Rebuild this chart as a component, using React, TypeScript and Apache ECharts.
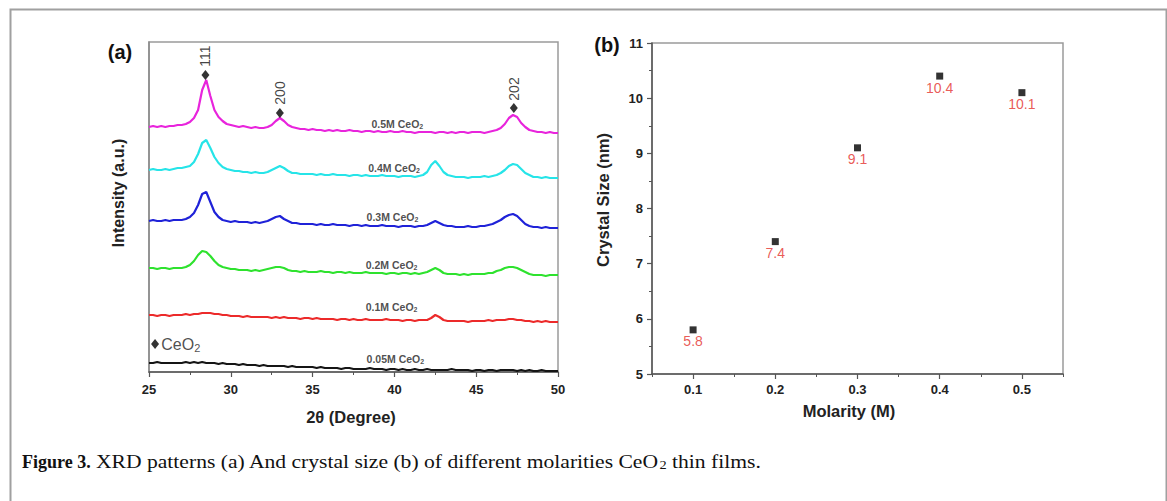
import React, { useEffect, useRef } from 'react';
import * as echarts from 'echarts';

// ---------- Panel (a): XRD patterns ----------
const twoTheta = [
  25, 25.25, 25.5, 25.75, 26, 26.25, 26.5, 26.75, 27, 27.25, 27.5, 27.75, 28, 28.25, 28.5, 28.75,
  29, 29.25, 29.5, 29.75, 30, 30.25, 30.5, 30.75, 31, 31.25, 31.5, 31.75, 32, 32.25, 32.5, 32.75,
  33, 33.25, 33.5, 33.75, 34, 34.25, 34.5, 34.75, 35, 35.25, 35.5, 35.75, 36, 36.25, 36.5, 36.75,
  37, 37.25, 37.5, 37.75, 38, 38.25, 38.5, 38.75, 39, 39.25, 39.5, 39.75, 40, 40.25, 40.5, 40.75,
  41, 41.25, 41.5, 41.75, 42, 42.25, 42.5, 42.75, 43, 43.25, 43.5, 43.75, 44, 44.25, 44.5, 44.75,
  45, 45.25, 45.5, 45.75, 46, 46.25, 46.5, 46.75, 47, 47.25, 47.5, 47.75, 48, 48.25, 48.5, 48.75,
  49, 49.25, 49.5, 49.75, 50,
];

const m05 = [
  245, 246, 245, 246, 245, 246, 246, 247, 247, 248, 250, 254, 262, 282, 292, 276,
  262, 255, 251, 248, 247, 246, 245, 246, 245, 244, 245, 244, 244, 245, 247, 251,
  254, 251, 247, 245, 244, 243, 243, 242, 243, 242, 242, 241, 242, 241, 242, 241,
  241, 242, 241, 241, 240, 241, 241, 240, 241, 240, 240, 241, 240, 240, 241, 240,
  240, 239, 240, 240, 240, 240, 239, 240, 240, 239, 240, 239, 240, 240, 239, 240,
  240, 240, 239, 240, 241, 242, 244, 248, 254, 257, 255, 249, 245, 242, 241, 240,
  240, 239, 240, 239, 239,
];
const m04 = [
  202, 203, 202, 202, 203, 202, 203, 204, 204, 205, 206, 210, 218, 229, 232, 224,
  215, 209, 205, 203, 202, 201, 201, 200, 200, 199, 200, 199, 199, 200, 202, 204,
  206, 204, 201, 199, 199, 198, 198, 198, 198, 197, 198, 197, 197, 198, 197, 197,
  197, 196, 197, 197, 196, 197, 196, 196, 196, 197, 196, 196, 196, 195, 196, 196,
  196, 195, 196, 197, 200, 207, 211, 206, 200, 197, 196, 195, 195, 195, 194, 195,
  195, 195, 196, 195, 196, 197, 199, 202, 206, 208, 207, 203, 199, 197, 195, 195,
  194, 195, 194, 194, 194,
];
const m03 = [
  151, 152, 151, 151, 152, 151, 152, 152, 152, 153, 155, 159, 167, 178, 180, 170,
  160, 155, 152, 151, 150, 151, 150, 150, 150, 149, 150, 149, 150, 151, 153, 155,
  156, 153, 151, 149, 149, 148, 148, 148, 148, 147, 148, 147, 147, 148, 147, 147,
  147, 146, 147, 147, 146, 147, 146, 146, 146, 147, 146, 146, 146, 145, 146, 146,
  146, 145, 146, 146, 147, 149, 151, 149, 147, 146, 146, 145, 145, 145, 146, 145,
  145, 146, 146, 147, 148, 150, 152, 155, 157, 158, 156, 152, 148, 146, 145, 145,
  144, 145, 144, 144, 144,
];
const m02 = [
  104, 104, 103, 104, 104, 103, 104, 104, 104, 105, 107, 111, 117, 121, 120, 116,
  111, 107, 105, 104, 103, 103, 102, 102, 102, 101, 102, 101, 102, 103, 104, 105,
  105, 104, 102, 101, 101, 100, 101, 100, 100, 100, 101, 100, 100, 99, 100, 100,
  99, 100, 99, 99, 99, 100, 99, 99, 99, 99, 98, 99, 99, 98, 99, 99,
  98, 99, 98, 99, 100, 102, 104, 102, 99, 98, 98, 98, 97, 98, 97, 98,
  98, 98, 98, 99, 99, 101, 102, 104, 105, 105, 104, 102, 100, 98, 97, 97,
  97, 96, 97, 97, 97,
];
const m01 = [
  57, 57, 56, 57, 57, 56, 57, 57, 57, 58, 57, 58, 58, 59, 59, 59,
  58, 58, 57, 57, 56, 56, 56, 55, 56, 55, 55, 55, 55, 55, 54, 55,
  54, 55, 54, 54, 54, 53, 54, 54, 53, 54, 53, 53, 53, 53, 52, 53,
  53, 52, 53, 52, 52, 53, 52, 52, 52, 52, 53, 52, 52, 52, 51, 52,
  52, 51, 52, 52, 52, 54, 57, 55, 52, 51, 51, 51, 51, 51, 50, 51,
  51, 51, 51, 52, 51, 52, 52, 52, 53, 53, 52, 52, 51, 51, 50, 51,
  50, 51, 50, 50, 50,
];
const m005 = [
  9, 9, 10, 9, 9, 9, 9, 9, 9, 10, 9, 10, 9, 10, 9, 9,
  9, 8, 9, 8, 8, 8, 7, 8, 7, 7, 7, 6, 7, 6, 6, 6,
  6, 6, 5, 6, 5, 5, 5, 5, 5, 4, 5, 4, 4, 4, 4, 3,
  4, 4, 3, 3, 3, 3, 4, 3, 3, 3, 2, 3, 3, 2, 3, 2,
  2, 3, 2, 2, 3, 2, 2, 2, 2, 2, 3, 2, 2, 2, 2, 1,
  2, 2, 1, 2, 2, 1, 2, 2, 2, 2, 1, 2, 1, 2, 1, 1,
  2, 1, 1, 1, 1,
];

const traceNames = ['0.5M', '0.4M', '0.3M', '0.2M', '0.1M', '0.05M'];
const traceValues = [m05, m04, m03, m02, m01, m005];
const traceColors = ['#e824dc', '#26e4e8', '#1f22d8', '#2ee22e', '#ec2a2a', '#151515'];
// label anchor (2θ, intensity) for each trace name
const traceLabelX = [38.6, 38.4, 38.3, 38.25, 38.25, 38.3];
const traceLabelY = [248, 204, 155, 107, 65, 13];

// CeO2 reflections
const peakHkl = ['111', '200', '202'];
const peakTheta = [28.45, 33.0, 47.3];
const peakMarkY = [297, 259, 264];
const peakLabelY = [316, 279, 283];

// legend marker
const legendPos = [25.37, 28];
const legendTextPos = [25.75, 28];

// ---------- Panel (b): crystal size ----------
const molarity = [0.1, 0.2, 0.3, 0.4, 0.5];
const crystalSize = [5.8, 7.4, 9.1, 10.4, 10.1];
const molarityTicks = [0.1, 0.2, 0.3, 0.4, 0.5];

const SANS = 'Liberation Sans, Arial, sans-serif';
const SERIF = 'Liberation Serif, Times New Roman, serif';

export default function App() {
  const ref = useRef<HTMLDivElement>(null);

  useEffect(() => {
    if (!ref.current) return;
    const chart = echarts.init(ref.current, undefined, { renderer: 'svg' });

    const lineSeries = traceValues.map((vals, i) => ({
      type: 'line',
      xAxisIndex: 0,
      yAxisIndex: 0,
      data: twoTheta.map((t, k) => [t, vals[k]]),
      showSymbol: false,
      symbol: 'none',
      lineStyle: { color: traceColors[i], width: 2.2 },
      itemStyle: { color: traceColors[i] },
      z: 2,
    }));

    const option: any = {
      animation: false,
      backgroundColor: '#ffffff',
      grid: [
        { left: 149, top: 42, width: 409, height: 330, show: true, borderColor: '#9a9a9a', borderWidth: 1.5 },
        { left: 652, top: 43, width: 411, height: 331, show: true, borderColor: '#9a9a9a', borderWidth: 1.5 },
      ],
      xAxis: [
        {
          type: 'value', gridIndex: 0, min: 25, max: 50, interval: 5,
          axisLine: { show: true, lineStyle: { color: '#555', width: 1.5 } },
          axisTick: { show: true, length: 5, lineStyle: { color: '#555', width: 1.2 } },
          minorTick: { show: true, splitNumber: 2, length: 3, lineStyle: { color: '#555', width: 1 } },
          splitLine: { show: false },
          axisLabel: { margin: 11, color: '#222', fontSize: 13, fontWeight: 'bold', fontFamily: SANS },
        },
        {
          type: 'value', gridIndex: 1, min: 0.05, max: 0.55,
          axisLine: { show: true, lineStyle: { color: '#555', width: 1.5 } },
          axisTick: { show: true, length: 5, customValues: molarityTicks, lineStyle: { color: '#555', width: 1.2 } },
          splitLine: { show: false },
          axisLabel: {
            customValues: molarityTicks, margin: 9, color: '#222', fontSize: 13, fontWeight: 'bold', fontFamily: SANS,
            formatter: (v: number) => v.toFixed(1),
          },
        },
        {
          type: 'value', gridIndex: 1, min: 0.05, max: 0.55, interval: 0.05, position: 'bottom',
          axisLine: { show: false },
          axisTick: { show: true, length: 3, lineStyle: { color: '#555', width: 1 } },
          splitLine: { show: false },
          axisLabel: { show: false },
        },
      ],
      yAxis: [
        {
          type: 'value', gridIndex: 0, min: 0, max: 330,
          axisLine: { show: true, lineStyle: { color: '#8a8a8a', width: 1.5 } },
          axisTick: { show: false },
          axisLabel: { show: false },
          splitLine: { show: false },
        },
        {
          type: 'value', gridIndex: 1, min: 5, max: 11, interval: 1,
          axisLine: { show: true, lineStyle: { color: '#555', width: 1.5 } },
          axisTick: { show: true, length: 5, lineStyle: { color: '#555', width: 1.2 } },
          minorTick: { show: true, splitNumber: 2, length: 3, lineStyle: { color: '#555', width: 1 } },
          splitLine: { show: false },
          axisLabel: { margin: 9, color: '#222', fontSize: 13, fontWeight: 'bold', fontFamily: SANS },
        },
      ],
      series: [
        ...lineSeries,
        {
          type: 'scatter', xAxisIndex: 0, yAxisIndex: 0, symbolSize: 0, z: 5,
          data: traceNames.map((n, i) => ({ name: n, value: [traceLabelX[i], traceLabelY[i]] })),
          label: {
            show: true, position: 'right', distance: 0,
            formatter: (p: any) => `{a|${p.name} CeO}{s|2}`,
            rich: {
              a: { fontSize: 10.5, fontWeight: 'bold', fontFamily: SANS, color: '#222', lineHeight: 12 },
              s: { fontSize: 7, fontWeight: 'bold', fontFamily: SANS, color: '#222', lineHeight: 4, verticalAlign: 'bottom' },
            },
          },
          silent: true,
        },
        {
          type: 'scatter', xAxisIndex: 0, yAxisIndex: 0, symbol: 'diamond', symbolSize: [8, 10], z: 5,
          itemStyle: { color: '#000' },
          data: [...peakTheta.map((t, i) => [t, peakMarkY[i]]), legendPos],
          silent: true,
        },
        {
          type: 'scatter', xAxisIndex: 0, yAxisIndex: 0, symbolSize: 0, z: 5,
          data: peakHkl.map((h, i) => ({ name: h, value: [peakTheta[i], peakLabelY[i]] })),
          label: {
            show: true, position: 'inside', rotate: 90, formatter: (p: any) => p.name,
            fontSize: 14, fontFamily: SANS, color: '#111',
          },
          silent: true,
        },
        {
          type: 'scatter', xAxisIndex: 0, yAxisIndex: 0, symbolSize: 0, z: 5,
          data: [{ name: 'CeO', value: legendTextPos }],
          label: {
            show: true, position: 'right', distance: 0,
            formatter: '{a|CeO}{s|2}',
            rich: {
              a: { fontSize: 16, fontFamily: SANS, color: '#222', lineHeight: 18 },
              s: { fontSize: 11, fontFamily: SANS, color: '#222', lineHeight: 6, verticalAlign: 'bottom' },
            },
          },
          silent: true,
        },
        {
          type: 'scatter', xAxisIndex: 1, yAxisIndex: 1, symbol: 'rect', symbolSize: 7, z: 5,
          itemStyle: { color: '#000' },
          data: molarity.map((m, i) => [m, crystalSize[i]]),
          label: {
            show: true, position: 'bottom', distance: 1,
            formatter: (p: any) => p.value[1].toFixed(1),
            fontSize: 14, fontFamily: SANS, color: '#e3302c',
          },
        },
      ],
      graphic: [
        {
          type: 'rect', left: 8, top: 7, silent: true, z: -1,
          shape: { x: 0, y: 0, width: 1156, height: 520 },
          style: { fill: 'none', stroke: '#a0a0a0', lineWidth: 2 },
        },
        {
          type: 'text', x: 120, y: 52,
          style: { text: '(a)', fontSize: 20, fontWeight: 'bold', fontFamily: SANS, fill: '#111', textAlign: 'center', textVerticalAlign: 'middle' },
        },
        {
          type: 'text', x: 607, y: 45,
          style: { text: '(b)', fontSize: 20, fontWeight: 'bold', fontFamily: SANS, fill: '#111', textAlign: 'center', textVerticalAlign: 'middle' },
        },
        {
          type: 'text', x: 118, y: 193, rotation: Math.PI / 2,
          style: { text: 'Intensity (a.u.)', fontSize: 16, fontWeight: 'bold', fontFamily: SANS, fill: '#222', textAlign: 'center', textVerticalAlign: 'middle' },
        },
        {
          type: 'text', x: 603, y: 200, rotation: Math.PI / 2,
          style: { text: 'Crystal Size (nm)', fontSize: 16.5, fontWeight: 'bold', fontFamily: SANS, fill: '#222', textAlign: 'center', textVerticalAlign: 'middle' },
        },
        {
          type: 'text', x: 351, y: 417,
          style: { text: '2θ (Degree)', fontSize: 16.5, fontWeight: 'bold', fontFamily: SANS, fill: '#222', textAlign: 'center', textVerticalAlign: 'middle' },
        },
        {
          type: 'text', x: 849, y: 411,
          style: { text: 'Molarity (M)', fontSize: 16.5, fontWeight: 'bold', fontFamily: SANS, fill: '#222', textAlign: 'center', textVerticalAlign: 'middle' },
        },
        {
          type: 'text', x: 22, y: 462,
          style: {
            text: 'Figure 3.', fontSize: 18, fontWeight: 'bold', fontFamily: SERIF, fill: '#111',
            textAlign: 'left', textVerticalAlign: 'middle',
          },
        },
        {
          type: 'text', x: 96, y: 462, scaleX: 1.2,
          style: {
            text: 'XRD patterns (a) And crystal size (b) of different molarities CeO{s|2} thin films.',
            fontSize: 18, fontFamily: SERIF, fill: '#111', textAlign: 'left', textVerticalAlign: 'middle',
            rich: {
              s: { fontSize: 12, fontFamily: SERIF, fill: '#111', lineHeight: 8, verticalAlign: 'bottom' },
            },
          },
        },
      ],
    };

    chart.setOption(option);
    return () => chart.dispose();
  }, []);

  return <div ref={ref} style={{ position: 'absolute', left: 0, top: 0, width: 1167, height: 501 }} />;
}
